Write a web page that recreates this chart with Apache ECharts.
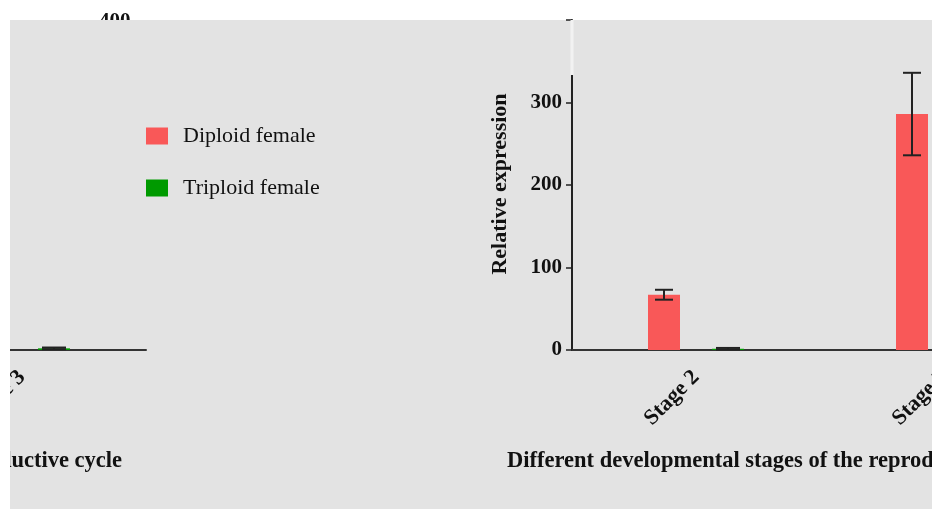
<!DOCTYPE html>
<html>
<head>
<meta charset="utf-8">
<script src="https://cdn.jsdelivr.net/npm/echarts@6/dist/echarts.min.js"></script>
<style>
html,body{margin:0;padding:0;background:#ffffff;overflow:hidden;width:932px;height:509px;}
#chart{position:absolute;left:-400px;top:0;width:1500px;height:509px;}
</style>
</head>
<body>
<div id="chart"></div>
<script>
// ---- data ----
var categories = ['Stage 2', 'Stage 3'];
var diploid = [67, 286];
var diploidErr = [6, 50];
var triploid = [1.5, 2];
var triploidErr = [1, 1];
var yTicks = [0, 100, 200, 300, 400];
var seriesNames = ['Diploid female', 'Triploid female'];
var xTitle = 'Different developmental stages of the reproductive cycle';
var yTitle = 'Relative expression';

var OX = 400; // canvas is shifted left by this many pixels
var RED = '#f95858', GREEN = '#009a00';
var SERIF = '"Liberation Serif","DejaVu Serif",serif';
var chart = echarts.init(document.getElementById('chart'));

function errData(vals, errs) {
  return vals.map(function (v, i) { return [i, v - errs[i], v + errs[i]]; });
}
function errRender(offset, hw) {
  return function (params, api) {
    var lo = api.coord([api.value(0), api.value(1)]);
    var hi = api.coord([api.value(0), api.value(2)]);
    var x = lo[0] + offset;
    var st = { stroke: '#222', lineWidth: 2 };
    return { type: 'group', children: [
      { type: 'line', shape: { x1: x, y1: hi[1], x2: x, y2: lo[1] }, style: st },
      { type: 'line', shape: { x1: x - hw, y1: hi[1], x2: x + hw, y2: hi[1] }, style: st },
      { type: 'line', shape: { x1: x - hw, y1: lo[1], x2: x + hw, y2: lo[1] }, style: st }
    ]};
  };
}

function xAxis(gi) {
  return {
    type: 'category', gridIndex: gi, data: categories,
    axisLine: { lineStyle: { color: '#333', width: 2 } },
    axisTick: { alignWithLabel: true, length: 6, lineStyle: { color: '#333', width: 1.5 } },
    axisLabel: { rotate: 45, margin: 24, color: '#111', fontFamily: SERIF, fontWeight: 'bold', fontSize: 22 }
  };
}
function yAxis(gi, show) {
  return {
    type: 'value', gridIndex: gi, min: 0, max: yTicks[yTicks.length - 1], interval: 100, show: show,
    splitLine: { show: false },
    axisLine: { show: true, lineStyle: { color: '#222', width: 2 } },
    axisTick: { show: true, length: 6, lineStyle: { color: '#222', width: 1.5 } },
    axisLabel: { margin: 10, color: '#111', fontFamily: SERIF, fontWeight: 'bold', fontSize: 21,
      formatter: function (v) { return v === 400 ? '' : String(v); } }
  };
}
function seriesFor(gi) {
  return [
    { name: seriesNames[0], type: 'bar', xAxisIndex: gi, yAxisIndex: gi, data: diploid,
      barWidth: 32, barGap: '100%', itemStyle: { color: RED } },
    { name: seriesNames[1], type: 'bar', xAxisIndex: gi, yAxisIndex: gi, data: triploid,
      barWidth: 32, barGap: '100%', itemStyle: { color: GREEN } },
    { type: 'custom', xAxisIndex: gi, yAxisIndex: gi, data: errData(diploid, diploidErr),
      renderItem: errRender(-32, 9), z: 5, encode: { x: 0, y: [1, 2] } },
    { type: 'custom', xAxisIndex: gi, yAxisIndex: gi, data: errData(triploid, triploidErr),
      renderItem: errRender(32, 12), z: 5, encode: { x: 0, y: [1, 2] } }
  ];
}

chart.setOption({
  backgroundColor: '#ffffff',
  animation: false,
  grid: [
    { left: OX - 350, top: 20, width: 496, height: 330 },
    { left: OX + 572, top: 20, width: 496, height: 330 }
  ],
  xAxis: [xAxis(0), xAxis(1)],
  yAxis: [yAxis(0, false), yAxis(1, true)],
  legend: {
    data: seriesNames, orient: 'vertical', left: OX + 146, top: 125, padding: 0,
    itemWidth: 22, itemHeight: 17, itemGap: 30, icon: 'rect',
    textStyle: { fontFamily: SERIF, fontSize: 22, color: '#111', padding: [0, 0, 0, 10] }
  },
  series: seriesFor(0).concat(seriesFor(1)),
  graphic: [
    { type: 'text', left: OX + 99, top: 11, z: 0,
      style: { text: String(yTicks[4]), font: 'bold 21px ' + SERIF, fill: '#111' } },
    { type: 'rect', z: 0, shape: { x: OX + 10, y: 20, width: 1100, height: 489 },
      style: { fill: '#e3e3e3' } },
    { type: 'text', z: 10, x: OX + 507, y: 461,
      style: { text: xTitle, font: 'bold 22.5px ' + SERIF, fill: '#111', textAlign: 'left', textVerticalAlign: 'middle' } },
    { type: 'text', z: 10, x: OX + 122, y: 461,
      style: { text: xTitle, font: 'bold 22.5px ' + SERIF, fill: '#111', textAlign: 'right', textVerticalAlign: 'middle' } },
    { type: 'text', z: 10, x: OX + 500, y: 184, rotation: Math.PI / 2,
      style: { text: yTitle, font: 'bold 22px ' + SERIF, fill: '#111', textAlign: 'center', textVerticalAlign: 'middle' } },
    { type: 'rect', z: 100, shape: { x: OX + 570.5, y: 20, width: 3, height: 55 }, style: { fill: '#f2f2f2' } },
    { type: 'rect', z: 100, shape: { x: 0, y: 0, width: OX + 10, height: 509 }, style: { fill: '#ffffff' } }
  ]
});
</script>
</body>
</html>
